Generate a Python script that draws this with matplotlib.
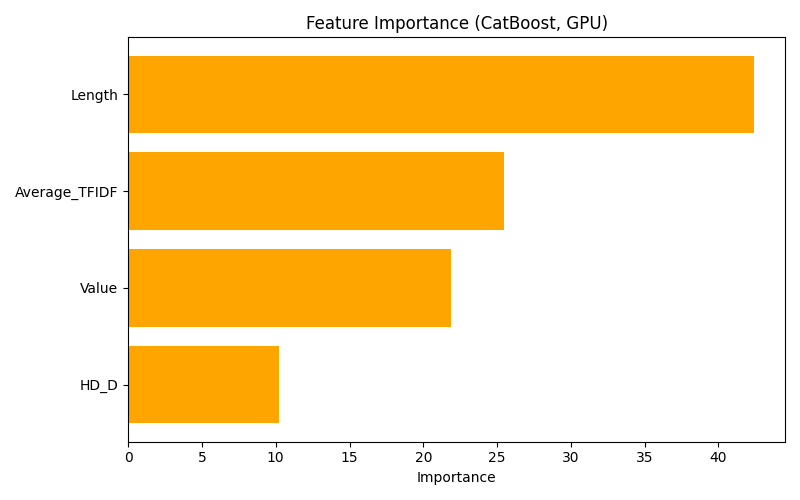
import matplotlib
matplotlib.use("Agg")
import matplotlib.pyplot as plt

features = ["Length", "Average_TFIDF", "Value", "HD_D"]
importance = [42.4, 25.5, 21.9, 10.2]

fig, ax = plt.subplots(figsize=(8, 5), dpi=100)
# smallest at the bottom
ax.barh(features[::-1], importance[::-1], color="orange")
ax.set_xlabel("Importance")
ax.set_title("Feature Importance (CatBoost, GPU)")
plt.tight_layout()
plt.savefig("out.png")
